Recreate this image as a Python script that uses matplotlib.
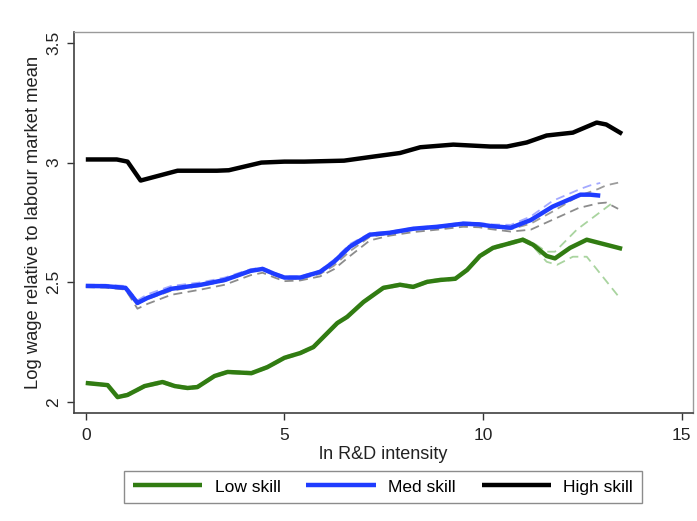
import numpy as np
import matplotlib.pyplot as plt

plt.rcParams['font.family'] = ['Liberation Sans', 'DejaVu Sans']

# ---- smoothed log wage by R&D intensity, three skill groups ----

# high skill
x_high = [0, 0.78, 1.05, 1.38, 2.31, 3.3, 3.6, 4.42, 5.0, 5.5, 6.5, 7.24, 7.91,
          8.42, 9.25, 10.18, 10.6, 11.1, 11.6, 12.26, 12.86, 13.1, 13.5]
high = [3.013, 3.013, 3.004, 2.925, 2.966, 2.966, 2.968, 3.0, 3.004, 3.004, 3.008,
        3.025, 3.04, 3.064, 3.075, 3.067, 3.067, 3.084, 3.113, 3.125, 3.167, 3.159, 3.12]

# medium skill + bands
x_med = [0, 0.5, 1.0, 1.3, 1.55, 2.15, 2.9, 3.5, 4.15, 4.45, 4.75, 5.0, 5.4, 5.9,
         6.25, 6.65, 7.15, 7.65, 8.25, 8.85, 9.5, 9.9, 10.2, 10.7, 11.2, 11.75,
         12.45, 12.7, 12.95]
med = [2.485, 2.484, 2.477, 2.414, 2.435, 2.473, 2.49, 2.51, 2.548, 2.556, 2.535,
       2.52, 2.52, 2.544, 2.586, 2.649, 2.699, 2.707, 2.724, 2.732, 2.745, 2.742,
       2.735, 2.728, 2.76, 2.816, 2.866, 2.866, 2.862]
med_hi = [2.49, 2.49, 2.485, 2.425, 2.45, 2.485, 2.50, 2.52, 2.555, 2.562, 2.54,
          2.525, 2.525, 2.55, 2.595, 2.66, 2.705, 2.712, 2.728, 2.736, 2.75, 2.748,
          2.742, 2.74, 2.775, 2.84, 2.89, 2.905, 2.915]

x_grey = [0, 0.5, 1.0, 1.3, 1.55, 2.15, 2.9, 3.5, 4.15, 4.45, 4.75, 5.0, 5.4, 5.9,
          6.25, 6.65, 7.15, 7.65, 8.25, 8.85, 9.5, 9.9, 10.2, 10.7, 11.2, 11.8,
          12.4, 12.9, 13.1, 13.4]
grey_hi = [2.485, 2.484, 2.475, 2.41, 2.43, 2.465, 2.485, 2.505, 2.545, 2.553, 2.53,
           2.515, 2.515, 2.535, 2.57, 2.63, 2.69, 2.703, 2.72, 2.728, 2.74, 2.738,
           2.73, 2.722, 2.745, 2.80, 2.86, 2.89, 2.905, 2.916]
grey_lo = [2.48, 2.478, 2.47, 2.39, 2.41, 2.448, 2.47, 2.49, 2.53, 2.54, 2.52, 2.505,
           2.508, 2.525, 2.555, 2.61, 2.675, 2.695, 2.71, 2.72, 2.732, 2.73, 2.722,
           2.712, 2.72, 2.765, 2.81, 2.83, 2.833, 2.807]

# low skill + bands
x_low = [0, 0.55, 0.8, 1.05, 1.48, 1.93, 2.24, 2.56, 2.81, 3.24, 3.57, 4.17, 4.57,
         5.0, 5.4, 5.73, 6.33, 6.58, 6.99, 7.49, 7.91, 8.24, 8.59, 8.92, 9.3, 9.6,
         9.92, 10.25, 11.0, 11.26, 11.6, 11.81, 12.19, 12.61, 13.5]
low = [2.08, 2.071, 2.021, 2.03, 2.067, 2.084, 2.067, 2.059, 2.063, 2.109, 2.126,
       2.121, 2.146, 2.185, 2.205, 2.23, 2.33, 2.356, 2.418, 2.477, 2.49, 2.481,
       2.502, 2.51, 2.515, 2.552, 2.61, 2.644, 2.678, 2.657, 2.61, 2.60, 2.644,
       2.678, 2.64]

x_low_hi = [0, 0.55, 0.8, 1.05, 1.48, 1.93, 2.24, 2.56, 2.81, 3.24, 3.57, 4.17,
            4.57, 5.0, 5.4, 5.73, 6.33, 6.58, 6.99, 7.49, 7.91, 8.24, 8.59, 8.92,
            9.3, 9.6, 9.92, 10.25, 11.0, 11.26, 11.6, 11.81, 12.36, 13.3]
low_hi = [2.084, 2.075, 2.026, 2.035, 2.072, 2.09, 2.072, 2.064, 2.068, 2.114, 2.131,
          2.126, 2.151, 2.19, 2.21, 2.235, 2.335, 2.361, 2.423, 2.482, 2.495, 2.486,
          2.507, 2.515, 2.52, 2.557, 2.615, 2.65, 2.684, 2.665, 2.628, 2.628, 2.72,
          2.837]
x_low_lo = [0, 0.55, 0.8, 1.05, 1.48, 1.93, 2.24, 2.56, 2.81, 3.24, 3.57, 4.17,
            4.57, 5.0, 5.4, 5.73, 6.33, 6.58, 6.99, 7.49, 7.91, 8.24, 8.59, 8.92,
            9.3, 9.6, 9.92, 10.25, 11.0, 11.26, 11.6, 11.86, 12.26, 12.61, 13.44]
low_lo = [2.076, 2.067, 2.016, 2.025, 2.062, 2.078, 2.062, 2.054, 2.058, 2.104,
          2.121, 2.116, 2.141, 2.18, 2.2, 2.225, 2.325, 2.351, 2.413, 2.472, 2.485,
          2.476, 2.497, 2.505, 2.51, 2.547, 2.605, 2.638, 2.672, 2.65, 2.586, 2.573,
          2.607, 2.607, 2.435]

labels = ['Low skill', 'Med skill', 'High skill']
x_ticks = [0, 5, 10, 15]
y_ticks = [2, 2.5, 3, 3.5]
y_ticklabels = ['2', '2.5', '3', '3.5']

#----PLOTTING----
fig = plt.figure(figsize=(6.97, 5.21), dpi=100)
ax = fig.add_axes([0.106, 0.207, 0.888, 0.732])

dash = dict(lw=1.3, dashes=(5, 3))
ax.plot(x_low_hi, low_hi, color='#a9d49f', **dash)
ax.plot(x_low_lo, low_lo, color='#a9d49f', **dash)
ax.plot(x_grey, grey_hi, color='#9c9c9c', **dash)
ax.plot(x_grey, grey_lo, color='#8c8c8c', **dash)
ax.plot(x_med, med_hi, color='#a3a9ff', **dash)

l1, = ax.plot(x_low, low, color='#317c12', lw=3.2, solid_capstyle='butt')
l2, = ax.plot(x_med, med, color='#1f3cff', lw=3.2, solid_capstyle='butt')
l3, = ax.plot(x_high, high, color='black', lw=3.2, solid_capstyle='butt')

ax.set_xlim(-0.3, 15.28)
ax.set_ylim(1.954, 3.546)
ax.set_xticks(x_ticks)
ax.set_yticks(y_ticks)
ax.set_yticklabels(y_ticklabels, rotation=90, va='center')
ax.tick_params(axis='both', labelsize=12.5, colors='#333333', length=5, width=1,
               labelcolor='#222222')
ax.tick_params(axis='y', pad=4)
ax.tick_params(axis='x', pad=6)

for side in ['left', 'bottom']:
    ax.spines[side].set_color('#404040')
    ax.spines[side].set_linewidth(1.2)
for side in ['top', 'right']:
    ax.spines[side].set_color('#9a9a9a')
    ax.spines[side].set_linewidth(1.0)

ax.set_xlabel('ln R&D intensity', fontsize=13, color='#222222', labelpad=2)
ax.set_ylabel('Log wage relative to labour market mean', fontsize=13.2,
              color='#222222', labelpad=3)

leg = fig.legend([l1, l2, l3], labels, ncol=3, loc='center',
                 bbox_to_anchor=(383 / 697, 1 - 487 / 521), fontsize=12.5,
                 handlelength=4.0, columnspacing=1.5, handletextpad=0.7,
                 frameon=True, fancybox=False, borderpad=0.5)
leg.get_frame().set_edgecolor('#707070')
leg.get_frame().set_linewidth(1.0)

fig.savefig('out.png', dpi=100)
